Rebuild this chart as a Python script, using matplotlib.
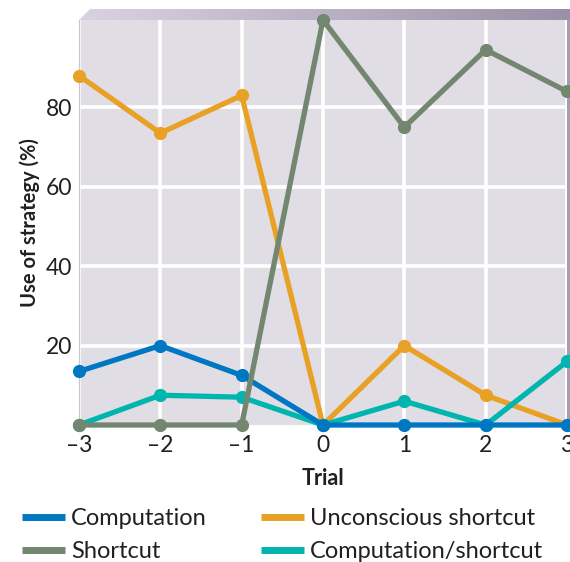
import numpy as np
import matplotlib
matplotlib.use("Agg")
import matplotlib.pyplot as plt
from matplotlib.lines import Line2D
from matplotlib.patches import Polygon, Rectangle
from matplotlib.colors import LinearSegmentedColormap

plt.rcParams['font.family'] = ['Lato', 'DejaVu Sans']

trials = [-3, -2, -1, 0, 1, 2, 3]
tick_labels = ['\u20133', '\u20132', '\u20131', '0', '1', '2', '3']
computation = [13.5, 20, 12.5, 0, 0, 0, 0]
unconscious = [88, 73.5, 83, 0, 20, 7.5, 0]
shortcut = [0, 0, 0, 102, 75, 94.5, 84]
comp_short = [0, 7.5, 7, 0, 6, 0, 16]
yticks = [20, 40, 60, 80]

C_BLUE = '#0077C2'
C_ORANGE = '#E8A125'
C_GRAY = '#738770'
C_TEAL = '#00B5AE'
TXT = '#231F20'

W, H = 570, 562
fig = plt.figure(figsize=(W / 100, H / 100), dpi=100)
L, R, B, T = 79, 567, 425, 20
ax = fig.add_axes([L / W, 1 - B / H, (R - L) / W, (B - T) / H])
ax.set_facecolor('#E0DDE5')
ax.set_xlim(-3, 3)
ax.set_ylim(0, 102)
for s in ['top', 'right', 'bottom']:
    ax.spines[s].set_visible(False)
ax.spines['left'].set_color('#C9C5CE')
ax.spines['left'].set_linewidth(0.8)

ax.set_xticks(trials)
ax.set_xticklabels(tick_labels)
ax.set_yticks(yticks)
ax.tick_params(length=0, labelsize=16.5, colors=TXT)
ax.tick_params(axis='y', pad=5)
ax.tick_params(axis='x', pad=7)
ax.grid(True, color='white', linewidth=2.6, zorder=0)
ax.set_axisbelow(True)

lw, ms = 3.8, 8.5
ax.plot(trials, unconscious, color=C_ORANGE, lw=lw, marker='o', ms=ms, clip_on=False, zorder=3)
ax.plot(trials, comp_short, color=C_TEAL, lw=lw, marker='o', ms=ms, clip_on=False, zorder=4)
ax.plot(trials, computation, color=C_BLUE, lw=lw, marker='o', ms=ms, clip_on=False, zorder=5)
ax.plot(trials, shortcut, color=C_GRAY, lw=lw, marker='o', ms=ms, clip_on=False, zorder=6)

ax.set_ylabel('Use of strategy (%)', fontsize=14.5, fontweight='bold', color=TXT)
ax.yaxis.set_label_coords(-0.08, 0.5)
ax.set_xlabel('Trial', fontsize=15.5, fontweight='bold', color=TXT)
ax.xaxis.set_label_coords(0.5, -0.105)

# 3D-ish frame: top band with gradient and right side band
ov = fig.add_axes([0, 0, 1, 1], zorder=-1)
ov.set_xlim(0, W)
ov.set_ylim(H, 0)
ov.axis('off')
grad = np.linspace(0, 1, 256).reshape(1, -1)
cmap = LinearSegmentedColormap.from_list('g', ['#D9D3E1', '#9A90A7'])
im = ov.imshow(grad, cmap=cmap, extent=[L, W, T, 9], aspect='auto')
poly = Polygon([(L, T), (L + 11, 9), (W, 9), (W, T)], closed=True, transform=ov.transData,
               facecolor='none', edgecolor='none')
ov.add_patch(poly)
im.set_clip_path(poly)
ov.add_patch(Rectangle((R - 1, T), W - R + 1, B - T, facecolor='#A79DB1', edgecolor='none'))

handles = [
    Line2D([], [], color=C_BLUE, lw=5, solid_capstyle='butt'),
    Line2D([], [], color=C_GRAY, lw=5, solid_capstyle='butt'),
    Line2D([], [], color=C_ORANGE, lw=5, solid_capstyle='butt'),
    Line2D([], [], color=C_TEAL, lw=5, solid_capstyle='butt'),
]
labels = ['Computation', 'Shortcut', 'Unconscious shortcut', 'Computation/shortcut']
leg = fig.legend(handles, labels, ncol=2, loc='upper left', bbox_to_anchor=(22 / W, 1 - 508 / H),
                 frameon=False, fontsize=17, handlelength=1.82, handletextpad=0.25,
                 columnspacing=2.3, labelspacing=0.5, borderaxespad=0, borderpad=0)
for t in leg.get_texts():
    t.set_color(TXT)

fig.savefig('out.png', dpi=100)
